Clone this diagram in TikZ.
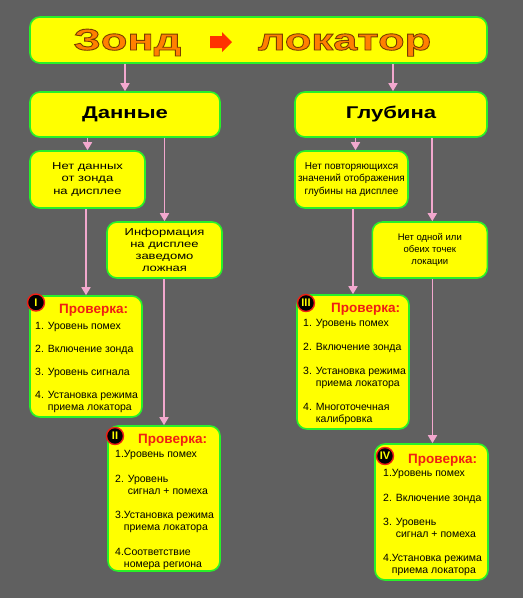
\documentclass[tikz,border=0pt]{standalone}
\usepackage{fontspec}
\setmainfont{Liberation Sans}
\newfontfamily\wideface{Liberation Sans}[FakeStretch=1.3]
\newfontfamily\titleface{Liberation Sans}[FakeStretch=1.45]
\usetikzlibrary{arrows.meta}
\definecolor{bggray}{RGB}{96,96,96}
\definecolor{cardyellow}{RGB}{255,255,0}
\definecolor{cardgreen}{RGB}{40,240,40}
\definecolor{linkpink}{RGB}{242,168,206}
\definecolor{chkred}{RGB}{240,30,20}
\definecolor{ttlorange}{RGB}{255,128,0}
\definecolor{ttlred}{RGB}{255,50,0}
\newcommand{\outlined}[1]{\special{pdf:literal direct q 0.47 0.24 0 RG 2 Tr 0.9 w}#1\special{pdf:literal direct Q}}
\tikzset{
  card/.style={draw=cardgreen,line width=1.6pt,fill=cardyellow,rounded corners=10pt,inner sep=0pt,align=center,text=black},
  headtxt/.style={font=\wideface\bfseries\fontsize{17}{20}\selectfont},
  wtxt/.style={font=\wideface\fontsize{10}{12.2}\selectfont},
  ntxt/.style={font=\fontsize{10}{12.3}\selectfont},
  lst/.style={anchor=north west,align=left,inner sep=0pt,text=black,font=\fontsize{10.5}{12}\selectfont},
  chkhead/.style={anchor=base west,inner sep=0pt,text=chkred,font=\bfseries\fontsize{13.5}{14}\selectfont},
  badge/.style={circle,fill=black,draw=chkred,line width=1.4pt,minimum size=17pt,inner sep=0pt,text=cardyellow,font=\bfseries\fontsize{11}{11}\selectfont},
  link/.style={draw=linkpink,line width=1.7pt,-{Triangle[width=9pt,length=8pt]}},
  ttltext/.style={inner sep=0pt,anchor=base,text=ttlorange,font=\titleface\bfseries\fontsize{30}{30}\selectfont}
}
\begin{document}
\begin{tikzpicture}[x=1pt,y=-1pt]
    \fill[bggray] (0,0) rectangle (523,598);
    \useasboundingbox (0,0) rectangle (523,598);
    \node[card,minimum width=457pt,minimum height=46pt] (title) at (258.5,40) {};
    \node[ttltext] (zond) at (127.5,50) {\outlined{Зонд}};
    \node[ttltext] (lok) at (344.5,50) {\outlined{локатор}};
    \fill[ttlred] (210,36) -- (222,36) -- (222,32) -- (232,42) -- (222,52) -- (222,48) -- (210,48) -- cycle;
    \node[card,headtxt,minimum width=190pt,minimum height=45pt] (dan) at (125,114.5) {Данные};
    \node[card,headtxt,minimum width=192pt,minimum height=45pt] (glub) at (391,114.5) {Глубина};
    \node[card,wtxt,minimum width=115pt,minimum height=57pt] (nodata) at (87.5,179.5) {Нет данных\\от зонда\\на дисплее};
    \node[card,wtxt,minimum width=115pt,minimum height=56pt] (info) at (164.5,250) {Информация\\на дисплее\\заведомо\\ложная};
    \node[card,ntxt,minimum width=113pt,minimum height=57pt] (norep) at (351.5,179.5) {Нет повторяющихся\\значений отображения\\глубины на дисплее};
    \node[card,ntxt,minimum width=115pt,minimum height=56pt,font=\fontsize{9.5}{12}\selectfont] (noloc) at (429.8,250) {Нет одной или\\обеих точек\\локации};
    \node[card,minimum width=112pt,minimum height=121pt] (chk1) at (86,356.5) {};
    \node[card,minimum width=112pt,minimum height=145pt] (chk2) at (164,498.5) {};
    \node[card,minimum width=112pt,minimum height=134pt] (chk3) at (353,362) {};
    \node[card,minimum width=113pt,minimum height=136pt] (chk4) at (431.5,512) {};
    \node[chkhead] (hd1) at (59,313) {Проверка:};
    \node[chkhead] (hd2) at (138,443) {Проверка:};
    \node[chkhead] (hd3) at (331,312) {Проверка:};
    \node[chkhead] (hd4) at (408,463) {Проверка:};
    \node[lst] (lst1) at (35,322.4) {1. Уровень помех\\[11pt]2. Включение зонда\\[11pt]3. Уровень сигнала\\[11pt]4. Установка режима\\\phantom{4. }приема локатора};
    \node[lst] (lst2) at (115,450.4) {1.Уровень помех\\[12.5pt]2. Уровень\\\phantom{2. }сигнал + помеха\\[12.5pt]3.Установка режима\\\phantom{3.}приема локатора\\[12.5pt]4.Соответствие\\\phantom{4.}номера региона};
    \node[lst] (lst3) at (303,319.4) {1. Уровень помех\\[12pt]2. Включение зонда\\[12pt]3. Установка режима\\\phantom{3. }приема локатора\\[12pt]4. Многоточечная\\\phantom{4. }калибровка};
    \node[lst] (lst4) at (383,469.4) {1.Уровень помех\\[12.5pt]2. Включение зонда\\[12pt]3. Уровень\\\phantom{3. }сигнал + помеха\\[12pt]4.Установка режима\\\phantom{4.}приема локатора};
    \draw[link] (title.south -| dan.north) -- (dan.north);
    \draw[link] ([xshift=2pt]title.south -| glub.north) -- ([xshift=2pt]glub.north);
    \draw[link] (dan.south -| nodata.north) -- (nodata.north);
    \draw[link] (dan.south -| info.north) -- (info.north);
    \draw[link] ([xshift=4pt]glub.south -| norep.north) -- ([xshift=4pt]norep.north);
    \draw[link] ([xshift=2.5pt]glub.south -| noloc.north) -- ([xshift=2.5pt]noloc.north);
    \draw[link] (nodata.south -| chk1.north) -- (chk1.north);
    \draw[link] (info.south -| chk2.north) -- (chk2.north);
    \draw[link] (norep.south -| chk3.north) -- (chk3.north);
    \draw[link] ([xshift=1pt]noloc.south -| chk4.north) -- ([xshift=1pt]chk4.north);
    \node[badge] (bdg1) at (36,302.5) {I};
    \node[badge] (bdg2) at (115,436) {II};
    \node[badge] (bdg3) at (306,303) {III};
    \node[badge] (bdg4) at (385,456) {IV};
  \end{tikzpicture}
\end{document}
